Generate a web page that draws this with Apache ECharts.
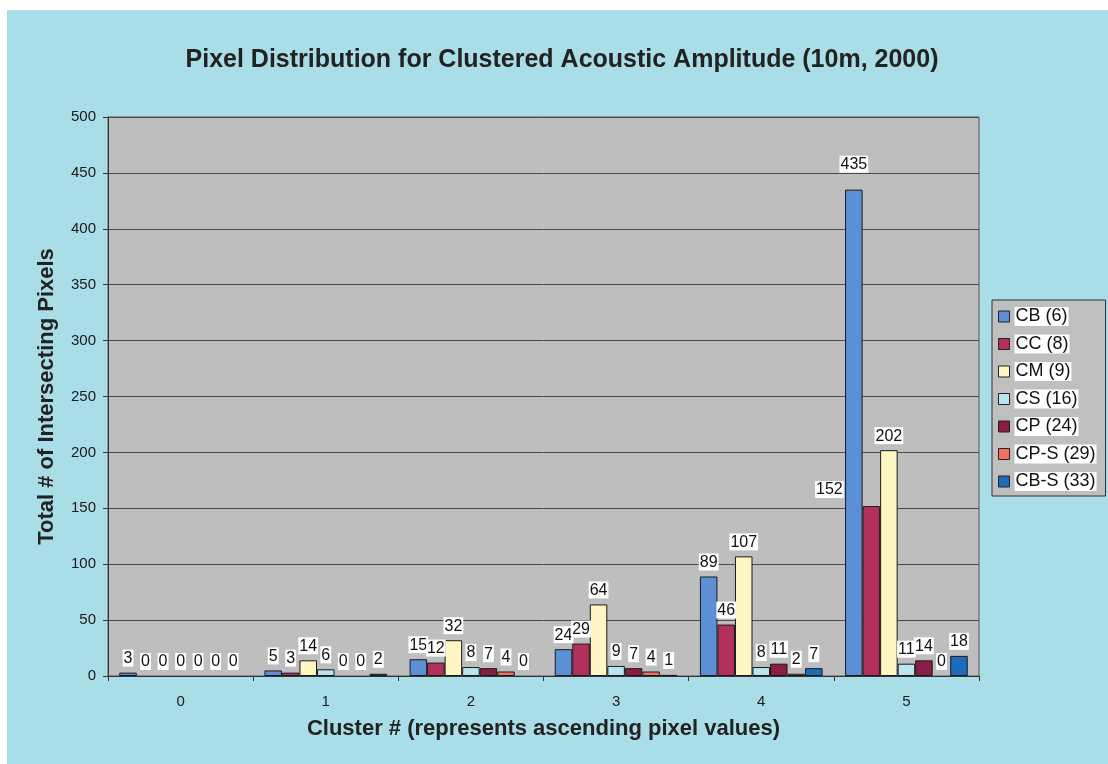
<!DOCTYPE html>
<html>
<head>
<meta charset="utf-8">
<script src="https://cdn.jsdelivr.net/npm/echarts@6/dist/echarts.min.js"></script>
<style>
  html, body { margin: 0; padding: 0; background: #fff; }
  #chart {
    width: 1108px; height: 764px;
    background: linear-gradient(#a9dde8, #a9dde8) 7px 10px / 1101px 754px no-repeat, #fff;
  }
</style>
</head>
<body>
<div id="chart"></div>
<script>
// Cluster categories on the x axis
const clusters = ['0', '1', '2', '3', '4', '5'];

// Substrate classes (legend names) and their pixel counts per cluster
const seriesNames = ['CB (6)', 'CC (8)', 'CM (9)', 'CS (16)', 'CP (24)', 'CP-S (29)', 'CB-S (33)'];
const CB  = [3, 5, 15, 24, 89, 435];
const CC  = [0, 3, 12, 29, 46, 152];
const CM  = [0, 14, 32, 64, 107, 202];
const CS  = [0, 6, 8, 9, 8, 11];
const CP  = [0, 0, 7, 7, 11, 14];
const CPS = [0, 0, 4, 4, 2, 0];
const CBS = [0, 2, 0, 1, 7, 18];
const seriesValues = [CB, CC, CM, CS, CP, CPS, CBS];

// Value axis ticks
const yTicks = [0, 50, 100, 150, 200, 250, 300, 350, 400, 450, 500];

const colors = ['#5b8fd6', '#b3305c', '#fff6c4', '#b9e6ee', '#8b1c45', '#f2705e', '#1c6cbb'];

// Labels that sit away from their bar so they do not collide
const labelTweaks = {
  '0-5': { distance: 17 },
  '1-5': { offset: [-42, -2] }
};

const FONT = '"Liberation Sans", Arial, Helvetica, sans-serif';

const series = seriesNames.map((name, si) => ({
  name,
  type: 'bar',
  barGap: '0%',
  barCategoryGap: '15.5%',
  itemStyle: { color: colors[si], borderColor: '#1a1a1a', borderWidth: 1 },
  label: {
    show: true,
    position: 'top',
    distance: 6,
    fontFamily: FONT,
    fontSize: 16,
    color: '#111',
    backgroundColor: '#ffffff',
    padding: [1, 1, 0, 1]
  },
  data: seriesValues[si].map((v, ci) => {
    const item = { value: v };
    if (v === 0) item.itemStyle = { borderWidth: 0 };
    const t = labelTweaks[si + '-' + ci];
    if (t) item.label = t;
    return item;
  })
}));

const chart = echarts.init(document.getElementById('chart'), null, { renderer: 'canvas' });
chart.setOption({
  backgroundColor: 'transparent',
  animation: false,
  title: {
    text: 'Pixel Distribution for Clustered Acoustic Amplitude (10m, 2000)',
    left: 557,
    textAlign: 'center',
    top: 43,
    textStyle: { fontFamily: FONT, fontSize: 25, fontWeight: 'bold', color: '#222' }
  },
  legend: {
    orient: 'vertical',
    left: 992,
    top: 300,
    padding: [7, 9, 5, 6],
    backgroundColor: '#bfbfbf',
    borderColor: '#333',
    borderWidth: 1,
    itemWidth: 11,
    itemHeight: 11,
    itemGap: 8.5,
    icon: 'rect',
    itemStyle: { borderColor: '#222', borderWidth: 1 },
    textStyle: {
      fontFamily: FONT, fontSize: 18, color: '#111',
      backgroundColor: '#fff', padding: [1, 1, 0, 1], lineHeight: 18
    },
    data: seriesNames
  },
  grid: {
    left: 108, right: 129, top: 117, bottom: 88,
    show: true,
    backgroundColor: '#bebebe',
    borderColor: '#555',
    borderWidth: 1
  },
  xAxis: {
    type: 'category',
    data: clusters,
    name: 'Cluster # (represents ascending pixel values)',
    nameLocation: 'middle',
    nameGap: 42,
    nameTextStyle: { fontFamily: FONT, fontSize: 22, fontWeight: 'bold', color: '#222' },
    axisLine: { lineStyle: { color: '#333', width: 1 } },
    axisTick: { show: true, length: 5, lineStyle: { color: '#333' } },
    axisLabel: { fontFamily: FONT, fontSize: 15, color: '#1a1a1a', margin: 18 }
  },
  yAxis: {
    type: 'value',
    min: yTicks[0],
    max: yTicks[yTicks.length - 1],
    interval: yTicks[1] - yTicks[0],
    name: 'Total # of Intersecting Pixels',
    nameLocation: 'middle',
    nameGap: 50,
    nameTextStyle: { fontFamily: FONT, fontSize: 22, fontWeight: 'bold', color: '#222' },
    axisLine: { show: true, lineStyle: { color: '#333', width: 1 } },
    axisTick: { show: true, length: 5, lineStyle: { color: '#333' } },
    axisLabel: { fontFamily: FONT, fontSize: 15, color: '#1a1a1a', margin: 12 },
    splitLine: { show: true, lineStyle: { color: '#4a4a4a', width: 1 } }
  },
  series
});
</script>
</body>
</html>
